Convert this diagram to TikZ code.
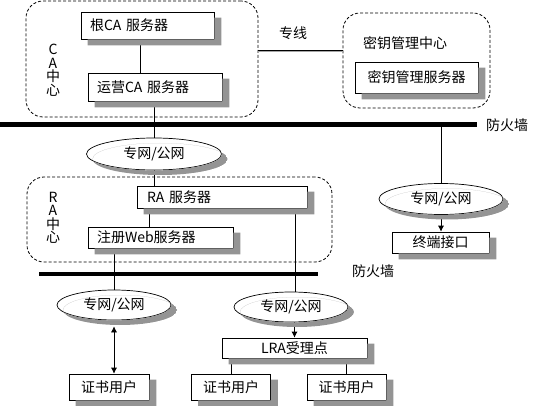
\documentclass[tikz,border=0pt]{standalone}
\usepackage{fontspec}
\newfontfamily\cjk{Noto Sans CJK SC}
\usetikzlibrary{shapes.geometric,arrows.meta}
\begin{document}
\begin{tikzpicture}[x=1pt,y=-1pt,
  every node/.style={font=\cjk\fontsize{14}{13.5}\selectfont},
  box/.style={draw, line width=0.7pt, fill=white, inner ysep=0pt},
  lbox/.style={box, inner xsep=9pt, align=left},
  ell/.style={ellipse, draw, line width=0.7pt, fill=white, inner sep=0pt},
  dashbox/.style={draw, line width=0.8pt, dash pattern=on 3pt off 2pt, rounded corners=17pt},
  conn/.style={draw, line width=0.7pt},
  arr/.style={conn, -{Latex[length=6pt,width=6pt]}},
  darr/.style={conn, {Latex[length=6pt,width=6pt]}-{Latex[length=6pt,width=6pt]}},
]
\useasboundingbox (0,0) rectangle (554,406);

% containers
\node[dashbox, minimum width=232, minimum height=116] (cabox) at (142,59) {};
\node[dashbox, minimum width=147, minimum height=95] (keybox) at (416.5,60.5) {};
\node[dashbox, minimum width=305, minimum height=85] (rabox) at (179.5,219.5) {};

% labels
\node[align=center] (cal) at (53,70) {C\\A\\中\\心};
\node[align=center] (ral) at (53,218) {R\\A\\中\\心};
\node (zx) at (293,33) {专线};
\node (kmc) at (405,43) {密钥管理中心};
\node (fwl1) at (507,125) {防火墙};
\node (fwl2) at (373,271) {防火墙};

% firewalls
\coordinate (fw1a) at (0,125);
\coordinate (fw1b) at (477,125);
\coordinate (fw2a) at (39,274);
\coordinate (fw2b) at (318,274);
\draw[line width=5pt] (fw1a) -- (fw1b);
\draw[line width=4pt] (fw2a) -- (fw2b);

% boxes
\node[lbox, minimum height=27, text width=115] (root) at (147.5,25.5) {根CA 服务器};
\node[lbox, minimum height=28, text width=116] (ops) at (155,87) {运营CA 服务器};
\node[box, minimum width=123, minimum height=31] (keysrv) at (416.5,77.5) {密钥管理服务器};
\node[lbox, inner xsep=10pt, minimum height=22, text width=150] (ra) at (222,197) {RA 服务器};
\node[lbox, minimum height=21, text width=127] (web) at (160.5,237.5) {注册Web服务器};
\node[box, minimum width=97, minimum height=21] (term) at (440.5,242.5) {终端接口};
\node[box, minimum width=145, minimum height=20] (lra) at (294.5,348) {LRA受理点};
\node[box, minimum width=80, minimum height=26] (u1) at (109,387) {证书用户};
\node[box, minimum width=79, minimum height=26] (u2) at (231,387) {证书用户};
\node[box, minimum width=79, minimum height=26] (u3) at (346.5,387) {证书用户};

% ellipses
\node[ell, minimum width=135, minimum height=32] (e1) at (154,154) {专网/公网};
\node[ell, minimum width=114, minimum height=30] (e2) at (114,305) {专网/公网};
\node[ell, minimum width=114, minimum height=30] (e3) at (291,307) {专网/公网};
\node[ell, minimum width=124, minimum height=31] (e4) at (441,199) {专网/公网};

% connectors
\coordinate (zxy) at (300,51);
\draw[line width=1pt, double=gray!70, double distance=0.8pt] (cabox.east |- zxy) -- (keybox.west |- zxy);
\draw[conn] ([xshift=-7.5pt]root.south) -- ([xshift=-7.5pt]root.south |- ops.north);
\draw[conn] (ops.south -| e1.north) -- (e1.north);
\draw[conn] (e1.south) -- (e1.south |- ra.north);
\draw[conn] ([xshift=-73pt]ra.south) -- ([xshift=-73pt]ra.south |- web.north);
\draw[conn] (web.south -| e2.north) -- (e2.north);
\draw[conn] ([xshift=-12pt]ra.south east) -- ([xshift=-12pt]ra.south east |- e3.north);
\draw[arr] (lra.north |- e3.south) -- (lra.north);
\draw[conn] (lra.south -| u2.north) -- (u2.north);
\draw[conn] (lra.south -| u3.north) -- (u3.north);
\draw[darr] ([yshift=-6pt]e2.south) -- (e2.south |- u1.north);
\draw[conn] (e4.north |- fw1b) -- (e4.north);
\draw[arr] (e4.south) -- (e4.south |- term.north);

% shadows: only the part that shows beside and below each shape, drawn last
\foreach \n in {root,ops,keysrv,ra,web,term,lra,u1,u2,u3}{
  \fill[black!42] ([yshift=-6pt]\n.north east) -- ([shift={(7pt,-6pt)}]\n.north east)
    -- ([shift={(7pt,-6pt)}]\n.south east) -- ([shift={(7pt,-6pt)}]\n.south west)
    -- ([xshift=7pt]\n.south west) -- (\n.south east) -- cycle;
}
\foreach \n/\rx/\ry in {e1/67.5/16, e2/57/15, e3/57/15, e4/62/15.5}{
  \begin{scope}
    \clip ([shift={(6pt,-5pt)}]\n.center) ellipse [x radius=\rx, y radius=\ry];
    \fill[black!42, even odd rule]
      ([shift={(6pt,-5pt)}]\n.center) ellipse [x radius=\rx, y radius=\ry]
      (\n.center) ellipse [x radius=\rx+0.4, y radius=\ry+0.4];
  \end{scope}
}
\end{tikzpicture}
\end{document}
